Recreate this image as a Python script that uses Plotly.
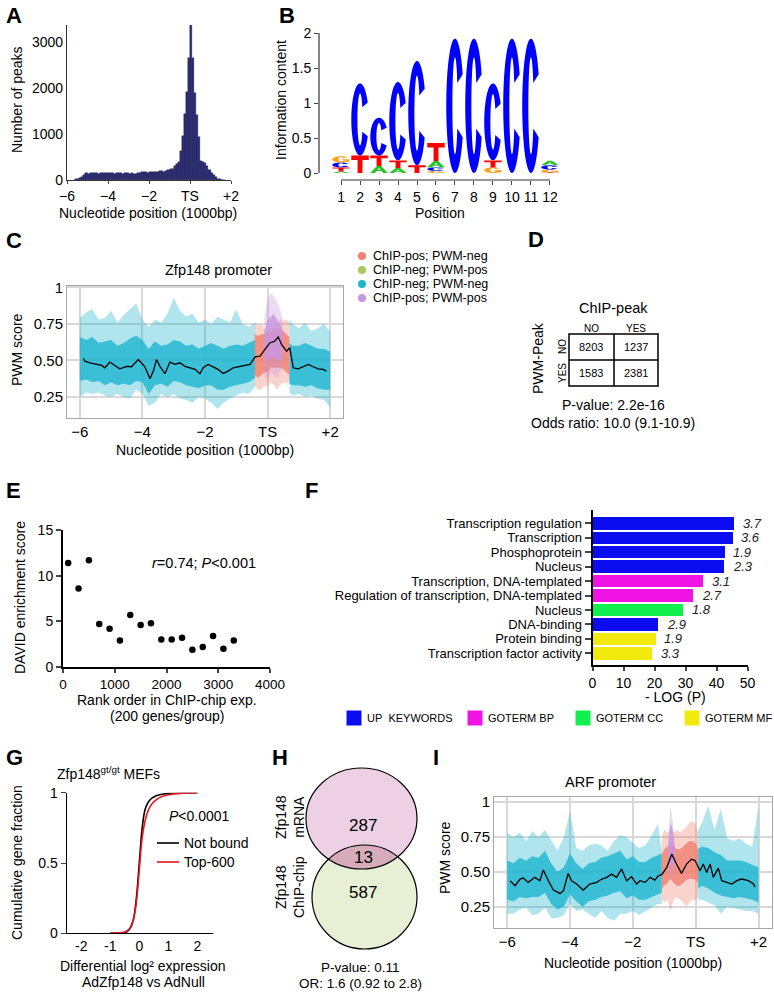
import numpy as np
import plotly.graph_objects as go

W, H = 774, 992
FONT = "Liberation Sans, Arial, Helvetica, sans-serif"

# ---------------- Panel A : histogram of peak positions ----------------
hist_first_center = -5.55
hist_bin_width = 0.1
hist_counts = [15, 25, 35, 60, 110, 150,
               140, 155, 150, 160, 150, 140, 145, 150, 145, 155,
               150, 155, 150, 140, 150, 145, 155, 140, 145, 150,
               140, 145, 135, 140, 150, 160, 170, 165, 170, 160,
               170, 165, 170, 175, 165, 190, 185, 175, 200, 210,
               240, 250, 300, 340, 400, 620, 960, 1440, 1920, 2650,
               3400, 2650, 1900, 1420, 930, 420, 400, 360, 300, 220,
               150, 100, 60, 30, 15, 8, 3]

# ---------------- Panel B : sequence logo ----------------
logo_positions = list(range(1, 13))
logo_A = [0.02, 0.00, 0.10, 0.07, 0.00, 0.09, 0.00, 0.00, 0.00, 0.00, 0.00, 0.065]
logo_C = [0.07, 1.03, 0.54, 1.12, 1.49, 0.05, 1.92, 1.92, 1.10, 1.92, 1.92, 0.06]
logo_G = [0.09, 0.00, 0.00, 0.00, 0.00, 0.03, 0.00, 0.00, 0.08, 0.00, 0.00, 0.04]
logo_T = [0.06, 0.25, 0.15, 0.11, 0.11, 0.26, 0.00, 0.00, 0.10, 0.00, 0.00, 0.01]

# ---------------- Panel C : Zfp148 promoter PWM scores ----------------
c_line_pos = [-5.89, -5.84, -5.68, -5.46, -5.30, -5.20, -5.04, -4.88, -4.72, -4.50, -4.35, -4.13, -4.03,
              -3.92, -3.76, -3.65, -3.55, -3.44, -3.28, -3.12, -2.96, -2.80, -2.64, -2.48, -2.32, -2.16,
              -2.06, -1.90, -1.74, -1.58, -1.42, -1.26, -1.10, -0.88, -0.72, -0.56, -0.40, -0.24, -0.09,
              0.07, 0.23, 0.34, 0.45, 0.61, 0.71, 0.82, 0.98, 1.14, 1.30, 1.46, 1.62, 1.78, 1.88]
c_line_val = [0.514, 0.495, 0.484, 0.473, 0.466, 0.450, 0.489, 0.466, 0.443, 0.460, 0.457, 0.507, 0.484,
              0.457, 0.375, 0.427, 0.507, 0.460, 0.409, 0.489, 0.473, 0.484, 0.460, 0.450, 0.439, 0.409,
              0.450, 0.473, 0.457, 0.439, 0.411, 0.427, 0.450, 0.460, 0.466, 0.473, 0.525, 0.530, 0.575,
              0.620, 0.632, 0.661, 0.609, 0.564, 0.587, 0.450, 0.443, 0.457, 0.473, 0.457, 0.443, 0.439, 0.427]
# ChIP-neg; PWM-neg (left of peak)
c_negL_pos = [-6.0, -5.8, -5.6, -5.4, -5.2, -5.0, -4.8, -4.6, -4.4, -4.2, -4.0, -3.8, -3.6, -3.4, -3.2,
              -3.0, -2.8, -2.6, -2.4, -2.2, -2.0, -1.8, -1.6, -1.4, -1.2, -1.0, -0.8, -0.6, -0.4]
c_negL_hi = [0.79, 0.83, 0.85, 0.78, 0.79, 0.84, 0.76, 0.81, 0.85, 0.89, 0.78, 0.73, 0.78, 0.76, 0.82,
             0.93, 0.84, 0.80, 0.82, 0.76, 0.78, 0.75, 0.80, 0.78, 0.76, 0.85, 0.75, 0.73, 0.76]
c_negL_lo = [0.25, 0.28, 0.27, 0.28, 0.26, 0.25, 0.27, 0.25, 0.24, 0.30, 0.27, 0.19, 0.21, 0.27, 0.25,
             0.27, 0.24, 0.23, 0.21, 0.25, 0.24, 0.21, 0.17, 0.21, 0.24, 0.26, 0.28, 0.27, 0.32]
c_negL_core_hi = [0.66, 0.64, 0.66, 0.62, 0.63, 0.64, 0.60, 0.62, 0.65, 0.67, 0.64, 0.58, 0.63, 0.60, 0.61,
                  0.64, 0.63, 0.60, 0.61, 0.58, 0.60, 0.62, 0.60, 0.58, 0.60, 0.61, 0.60, 0.62, 0.64]
c_negL_core_lo = [0.36, 0.37, 0.35, 0.36, 0.33, 0.35, 0.33, 0.34, 0.33, 0.36, 0.35, 0.27, 0.33, 0.34, 0.32,
                  0.36, 0.35, 0.33, 0.32, 0.31, 0.33, 0.33, 0.30, 0.30, 0.32, 0.33, 0.34, 0.35, 0.38]
# ChIP-neg; PWM-neg (right of peak)
c_negR_pos = [0.7, 0.8, 1.0, 1.2, 1.4, 1.6, 1.8, 2.0]
c_negR_hi = [0.78, 0.75, 0.72, 0.76, 0.70, 0.72, 0.75, 0.70]
c_negR_lo = [0.28, 0.26, 0.27, 0.25, 0.26, 0.24, 0.23, 0.18]
c_negR_core_hi = [0.62, 0.60, 0.60, 0.62, 0.60, 0.58, 0.58, 0.56]
c_negR_core_lo = [0.34, 0.33, 0.33, 0.32, 0.33, 0.31, 0.30, 0.30]
# ChIP-pos; PWM-neg
c_cpos_pos = [-0.41, -0.3, -0.2, -0.1, 0.0, 0.1, 0.2, 0.3, 0.4, 0.5, 0.6, 0.7]
c_cpos_hi = [0.76, 0.74, 0.75, 0.72, 0.70, 0.72, 0.74, 0.75, 0.78, 0.77, 0.78, 0.76]
c_cpos_lo = [0.33, 0.30, 0.30, 0.33, 0.32, 0.35, 0.33, 0.30, 0.33, 0.35, 0.34, 0.36]
c_cpos_core_hi = [0.68, 0.67, 0.68, 0.68, 0.70, 0.70, 0.72, 0.72, 0.72, 0.70, 0.68, 0.66]
c_cpos_core_lo = [0.40, 0.38, 0.40, 0.42, 0.42, 0.45, 0.45, 0.45, 0.45, 0.44, 0.42, 0.40]
# ChIP-pos; PWM-pos
c_both_pos = [-0.1, 0.0, 0.1, 0.2, 0.3, 0.4, 0.48]
c_both_hi = [0.80, 0.92, 0.96, 0.94, 0.90, 0.85, 0.78]
c_both_lo = [0.40, 0.36, 0.42, 0.40, 0.38, 0.42, 0.45]
c_both_core_hi = [0.70, 0.78, 0.80, 0.82, 0.78, 0.75, 0.70]
c_both_core_lo = [0.50, 0.50, 0.52, 0.52, 0.50, 0.50, 0.52]

# ---------------- Panel D : contingency table ----------------
d_table = [[8203, 1237], [1583, 2381]]

# ---------------- Panel E : DAVID enrichment ----------------
e_rank = [100, 300, 500, 700, 900, 1100, 1300, 1500, 1700, 1900, 2100, 2300, 2500, 2700, 2900, 3100, 3300]
e_score = [11.4, 8.6, 11.7, 4.7, 4.2, 2.9, 5.7, 4.6, 4.8, 3.0, 3.0, 3.2, 1.9, 2.2, 3.4, 2.0, 2.9]

# ---------------- Panel F : enrichment bars ----------------
f_terms = ["Transcription regulation", "Transcription", "Phosphoprotein", "Nucleus",
           "Transcription, DNA-templated", "Regulation of transcription, DNA-templated",
           "Nucleus", "DNA-binding", "Protein binding", "Transcription factor activity"]
f_neglogp = [45.6, 45.1, 42.5, 42.3, 35.5, 32.3, 29.1, 21.0, 20.3, 19.1]
f_fold = ["3.7", "3.6", "1.9", "2.3", "3.1", "2.7", "1.8", "2.9", "1.9", "3.3"]
f_category = ["UP KEYWORDS", "UP KEYWORDS", "UP KEYWORDS", "UP KEYWORDS", "GOTERM BP", "GOTERM BP",
              "GOTERM CC", "UP KEYWORDS", "GOTERM MF", "GOTERM MF"]
f_legend = ["UP KEYWORDS", "GOTERM BP", "GOTERM CC", "GOTERM MF"]

# ---------------- Panel G : cumulative distributions ----------------
g_x = [-1.0, -0.7, -0.5, -0.4, -0.3, -0.2, -0.1, 0.0, 0.1, 0.2, 0.3, 0.4, 0.5, 0.7, 1.0, 1.5, 2.0]
g_not_bound = [0.0, 0.0, 0.005, 0.015, 0.04, 0.10, 0.25, 0.50, 0.75, 0.88, 0.93, 0.955, 0.97, 0.985, 0.995, 0.999, 1.0]
g_top600 = [0.0, 0.003, 0.01, 0.02, 0.045, 0.10, 0.22, 0.45, 0.68, 0.80, 0.87, 0.91, 0.935, 0.965, 0.985, 0.997, 1.0]

# ---------------- Panel H : Venn ----------------
venn_mrna_only = 287
venn_overlap = 13
venn_chip_only = 587

# ---------------- Panel I : ARF promoter PWM scores ----------------
i_line_pos = [-5.91, -5.75, -5.59, -5.49, -5.33, -5.12, -4.96, -4.85, -4.69, -4.53, -4.32, -4.21, -4.06,
              -3.95, -3.79, -3.58, -3.37, -3.15, -2.99, -2.83, -2.68, -2.52, -2.36, -2.20, -2.04, -1.88,
              -1.77, -1.61, -1.45, -1.30, -1.19, -1.08, -0.92, -0.76, -0.61, -0.45, -0.29, -0.13, -0.02,
              0.14, 0.24, 0.35, 0.46, 0.56, 0.72, 0.83, 0.99, 1.15, 1.31, 1.46, 1.68, 1.84, 1.89]
i_line_val = [0.436, 0.400, 0.448, 0.455, 0.424, 0.460, 0.436, 0.512, 0.436, 0.369, 0.345, 0.364, 0.488,
              0.436, 0.412, 0.369, 0.412, 0.424, 0.448, 0.460, 0.483, 0.460, 0.519, 0.436, 0.464, 0.412,
              0.436, 0.424, 0.460, 0.440, 0.471, 0.479, 0.531, 0.626, 0.555, 0.488, 0.555, 0.590, 0.580,
              0.507, 0.555, 0.495, 0.555, 0.460, 0.526, 0.436, 0.424, 0.412, 0.436, 0.448, 0.436, 0.412, 0.390]
i_negL_pos = [-6.0, -5.8, -5.6, -5.4, -5.2, -5.0, -4.8, -4.6, -4.4, -4.2, -4.0, -3.8, -3.6, -3.4, -3.2,
              -3.0, -2.8, -2.6, -2.4, -2.2, -2.0, -1.8, -1.6, -1.4, -1.2, -1.08]
i_negL_hi = [0.78, 0.745, 0.78, 0.72, 0.79, 0.745, 0.80, 0.72, 0.65, 0.745, 0.93, 0.67, 0.65, 0.69, 0.70,
             0.69, 0.65, 0.72, 0.76, 0.745, 0.71, 0.67, 0.69, 0.76, 0.84, 0.65]
i_negL_lo = [0.20, 0.20, 0.23, 0.245, 0.19, 0.20, 0.245, 0.17, 0.17, 0.19, 0.27, 0.22, 0.23, 0.20, 0.17,
             0.22, 0.17, 0.15, 0.20, 0.20, 0.22, 0.19, 0.22, 0.245, 0.27, 0.27]
i_negL_core_hi = [0.58, 0.56, 0.60, 0.58, 0.61, 0.60, 0.65, 0.56, 0.50, 0.53, 0.63, 0.56, 0.52, 0.56, 0.57,
                  0.60, 0.61, 0.63, 0.65, 0.59, 0.61, 0.57, 0.57, 0.60, 0.62, 0.63]
i_negL_core_lo = [0.30, 0.29, 0.32, 0.31, 0.32, 0.32, 0.35, 0.27, 0.23, 0.25, 0.34, 0.29, 0.25, 0.29, 0.30,
                  0.32, 0.33, 0.35, 0.36, 0.31, 0.33, 0.30, 0.30, 0.32, 0.34, 0.35]
i_negR_pos = [0.08, 0.2, 0.4, 0.6, 0.8, 1.0, 1.2, 1.4, 1.6, 1.8, 2.0]
i_negR_hi = [0.80, 0.85, 0.97, 0.80, 0.95, 0.74, 0.72, 0.74, 0.70, 0.68, 0.97]
i_negR_lo = [0.30, 0.30, 0.28, 0.26, 0.20, 0.25, 0.24, 0.23, 0.22, 0.22, 0.20]
i_negR_core_hi = [0.66, 0.68, 0.67, 0.64, 0.62, 0.58, 0.58, 0.58, 0.57, 0.55, 0.53]
i_negR_core_lo = [0.38, 0.40, 0.38, 0.35, 0.33, 0.32, 0.31, 0.32, 0.31, 0.30, 0.28]
i_cpos_pos = [-1.08, -1.0, -0.9, -0.8, -0.7, -0.6, -0.5, -0.4, -0.3, -0.2, -0.1, 0.0, 0.08]
i_cpos_hi = [0.75, 0.80, 0.78, 0.80, 0.78, 0.80, 0.78, 0.80, 0.82, 0.85, 0.86, 0.84, 0.78]
i_cpos_lo = [0.30, 0.28, 0.30, 0.22, 0.30, 0.32, 0.30, 0.28, 0.25, 0.28, 0.30, 0.30, 0.32]
i_cpos_core_hi = [0.62, 0.66, 0.68, 0.70, 0.68, 0.66, 0.66, 0.68, 0.70, 0.72, 0.72, 0.70, 0.66]
i_cpos_core_lo = [0.38, 0.40, 0.42, 0.45, 0.42, 0.40, 0.40, 0.42, 0.44, 0.45, 0.45, 0.44, 0.42]
i_both_pos = [-0.87, -0.8, -0.73, -0.66]
i_both_hi = [0.75, 0.98, 0.85, 0.70]
i_both_lo = [0.50, 0.45, 0.48, 0.55]
i_both_core_hi = [0.70, 0.85, 0.80, 0.65]
i_both_core_lo = [0.55, 0.55, 0.55, 0.58]

# ======================================================================
def xd(a, b):
    return [a / W, b / W]


def yd(top, bot):
    return [1 - bot / H, 1 - top / H]


fig = go.Figure()
shapes = []
ann = []


def txt(x, y, s, size=14, xanchor="center", yanchor="middle", angle=0, color="black"):
    ann.append(dict(x=x, y=y, xref="x9", yref="y9", text=s, showarrow=False,
                    font=dict(family=FONT, size=size, color=color),
                    xanchor=xanchor, yanchor=yanchor, textangle=angle))


# ---- A
hist_centers = np.round(hist_first_center + hist_bin_width * np.arange(len(hist_counts)), 3)
fig.add_trace(go.Bar(x=hist_centers, y=hist_counts, width=hist_bin_width,
                     marker=dict(color="#2b2d7a", line=dict(color="#141540", width=0.4)),
                     xaxis="x", yaxis="y", showlegend=False, hoverinfo="skip"))

# ---- B logo glyphs


def ring(a0, a1, sx=0.35, sy=0.14, n=48):
    t = np.radians(np.linspace(a0, a1, n))
    outer = [(0.5 + 0.5 * np.cos(a), 0.5 + 0.5 * np.sin(a)) for a in t]
    inner = [(0.5 + (0.5 - sx) * np.cos(a), 0.5 + (0.5 - sy) * np.sin(a)) for a in t[::-1]]
    return outer + inner


def sub(pts, x0, y0, w, h):
    return "M " + " L ".join(f"{x0 + px * w:.4f},{y0 + py * h:.5f}" for px, py in pts) + " Z"


def glyph(L, x0, y0, w, h):
    if L == "C":
        return [sub(ring(28, 332), x0, y0, w, h)]
    if L == "G":
        bar = [(0.55, 0.52), (0.98, 0.52), (0.98, 0.12), (0.8, 0.12), (0.8, 0.38), (0.55, 0.38)]
        return [sub(ring(40, 340), x0, y0, w, h), sub(bar, x0, y0, w, h)]
    if L == "T":
        pts = [(0, 1), (1, 1), (1, 0.75), (0.64, 0.75), (0.64, 0), (0.36, 0), (0.36, 0.75), (0, 0.75)]
        return [sub(pts, x0, y0, w, h)]
    outer = [(0, 0), (0.38, 1), (0.62, 1), (1, 0), (0.74, 0), (0.65, 0.27), (0.35, 0.27), (0.26, 0)]
    hole = [(0.41, 0.42), (0.5, 0.72), (0.59, 0.42)]
    return [sub(outer, x0, y0, w, h) + " " + sub(hole, x0, y0, w, h)]


letter_colors = {"A": "#22c322", "C": "#0000ff", "G": "#ffa21a", "T": "#ff0000"}
for i, p in enumerate(logo_positions):
    stack = sorted([(arr[i], L) for L, arr in (("A", logo_A), ("C", logo_C), ("G", logo_G), ("T", logo_T))
                    if arr[i] > 0])
    y0 = 0.0
    for h, L in stack:
        for path in glyph(L, p - 0.46, y0, 0.92, h):
            shapes.append(dict(type="path", path=path, xref="x2", yref="y2",
                               fillcolor=letter_colors[L], line=dict(width=0), layer="above"))
        y0 += h
# partial axis lines for the logo
shapes.append(dict(type="line", xref="paper", yref="y2", x0=319 / W, x1=319 / W, y0=0, y1=2,
                   line=dict(color="#333", width=1.2)))
shapes.append(dict(type="line", xref="x2", yref="paper", x0=1, x1=12, y0=1 - 180 / H, y1=1 - 180 / H,
                   line=dict(color="#333", width=1.2)))
fig.add_trace(go.Scatter(x=[1], y=[0], xaxis="x2", yaxis="y2", mode="markers",
                         marker=dict(opacity=0), showlegend=False, hoverinfo="skip"))

# ---- C and I bands
CYAN = "29,181,207"
SALMON = "240,128,112"
VIOLET = "200,150,222"


def band(xa, ya, pos, lo, hi, rgb, alpha):
    xs = list(pos) + list(pos)[::-1]
    ys = list(hi) + list(lo)[::-1]
    fig.add_trace(go.Scatter(x=xs, y=ys, xaxis=xa, yaxis=ya, fill="toself",
                             fillcolor=f"rgba({rgb},{alpha})", line=dict(width=0), mode="lines",
                             showlegend=False, hoverinfo="skip"))


for xa, ya, groups, lp, lv in [
    ("x3", "y3", [(c_negL_pos, c_negL_lo, c_negL_hi, c_negL_core_lo, c_negL_core_hi, CYAN),
                  (c_negR_pos, c_negR_lo, c_negR_hi, c_negR_core_lo, c_negR_core_hi, CYAN),
                  (c_cpos_pos, c_cpos_lo, c_cpos_hi, c_cpos_core_lo, c_cpos_core_hi, SALMON),
                  (c_both_pos, c_both_lo, c_both_hi, c_both_core_lo, c_both_core_hi, VIOLET)],
     c_line_pos, c_line_val),
    ("x7", "y7", [(i_negL_pos, i_negL_lo, i_negL_hi, i_negL_core_lo, i_negL_core_hi, CYAN),
                  (i_negR_pos, i_negR_lo, i_negR_hi, i_negR_core_lo, i_negR_core_hi, CYAN),
                  (i_cpos_pos, i_cpos_lo, i_cpos_hi, i_cpos_core_lo, i_cpos_core_hi, SALMON),
                  (i_both_pos, i_both_lo, i_both_hi, i_both_core_lo, i_both_core_hi, VIOLET)],
     i_line_pos, i_line_val)]:
    for pos, lo, hi, clo, chi, rgb in groups:
        band(xa, ya, pos, lo, hi, rgb, 0.35)
        band(xa, ya, pos, clo, chi, rgb, 0.8)
    fig.add_trace(go.Scatter(x=lp, y=lv, xaxis=xa, yaxis=ya, mode="lines",
                             line=dict(color="black", width=1.3), showlegend=False, hoverinfo="skip"))

# ---- E
fig.add_trace(go.Scatter(x=e_rank, y=e_score, xaxis="x4", yaxis="y4", mode="markers",
                         marker=dict(color="black", size=6.5), showlegend=False, hoverinfo="skip"))

# ---- F
cat_colors = {"UP KEYWORDS": "#0c0cf0", "GOTERM BP": "#f014e4", "GOTERM CC": "#12f050", "GOTERM MF": "#f2ea0e"}
f_idx = list(range(len(f_terms)))
fig.add_trace(go.Bar(x=f_neglogp, y=f_idx, orientation="h", width=0.86,
                     marker=dict(color=[cat_colors[c] for c in f_category], line=dict(width=0)),
                     xaxis="x5", yaxis="y5", showlegend=False, hoverinfo="skip"))
for v, i, s in zip(f_neglogp, f_idx, f_fold):
    ann.append(dict(x=v, y=i, xref="x5", yref="y5", text=f"<i>{s}</i>", showarrow=False,
                    xanchor="left", xshift=7, font=dict(family=FONT, size=13, color="#222")))

# ---- G
fig.add_trace(go.Scatter(x=g_x, y=g_not_bound, xaxis="x6", yaxis="y6", mode="lines",
                         line=dict(color="black", width=1.6, shape="spline"), showlegend=False, hoverinfo="skip"))
fig.add_trace(go.Scatter(x=g_x, y=g_top600, xaxis="x6", yaxis="y6", mode="lines",
                         line=dict(color="#e8141e", width=1.6, shape="spline"), showlegend=False, hoverinfo="skip"))

# ---- overlay (pixel coordinates): legend dots of panel C
leg_rows = [256, 270, 284, 298]
fig.add_trace(go.Scatter(x=[362] * 4, y=leg_rows, xaxis="x9", yaxis="y9", mode="markers",
                         marker=dict(size=8, color=[f"rgb({SALMON})", "rgb(170,200,100)", f"rgb({CYAN})",
                                                    f"rgb({VIOLET})"]),
                         showlegend=False, hoverinfo="skip"))

# ================= text / annotations (pixel coords) =================
for lab, x, y in [("A", 4, 15), ("B", 277, 15), ("C", 4, 240), ("D", 526, 239), ("E", 4, 490),
                  ("F", 303, 490), ("G", 4, 757), ("H", 270, 757), ("I", 431, 757)]:
    txt(x, y, f"<b>{lab}</b>", size=22, xanchor="left")

# A
txt(17, 100, "Number of peaks", angle=-90)
txt(148, 213, "Nucleotide position (1000bp)")
# B
txt(281, 100, "Information content", angle=-90)
txt(440, 213, "Position")
# C
txt(218, 270, "Zfp148 promoter", size=14.5)
txt(17, 350, "PWM score", angle=-90)
txt(205, 450, "Nucleotide position (1000bp)")
for y, s in zip(leg_rows, ["ChIP-pos; PWM-neg", "ChIP-neg; PWM-pos", "ChIP-neg; PWM-neg",
                           "ChIP-pos; PWM-pos"]):
    txt(371, y, s, size=12.5, xanchor="left")
# D
txt(613, 308, "ChIP-peak", size=14.5)
txt(591, 328, "NO", size=10)
txt(636, 328, "YES", size=10)
txt(562, 347, "NO", size=10, angle=-90)
txt(562, 373, "YES", size=10, angle=-90)
txt(538, 358, "PWM-Peak", size=14, angle=-90)
for r, yy in enumerate([347, 373]):
    for c, xx in enumerate([591, 636]):
        txt(xx, yy, str(d_table[r][c]), size=11)
shapes.append(dict(type="rect", xref="x9", yref="y9", x0=569, x1=658, y0=334, y1=386,
                   line=dict(color="black", width=1.5)))
shapes.append(dict(type="line", xref="x9", yref="y9", x0=569, x1=658, y0=360, y1=360,
                   line=dict(color="black", width=1.5)))
shapes.append(dict(type="line", xref="x9", yref="y9", x0=614, x1=614, y0=334, y1=386,
                   line=dict(color="black", width=1.5)))
txt(613, 405, "P-value: 2.2e-16", size=14)
txt(613, 423, "Odds ratio: 10.0 (9.1-10.9)", size=14)
# E
txt(20, 598, "DAVID enrichment score", angle=-90)
txt(167, 700, "Rank order in ChIP-chip exp.")
txt(167, 716, "(200 genes/group)")
txt(204, 563, "<i>r</i>=0.74; <i>P</i>&lt;0.001", size=14.5)
# F
txt(675, 697, "- LOG (P)")
for name, xs in zip(f_legend, [354, 475, 583, 692]):
    shapes.append(dict(type="rect", xref="x9", yref="y9", x0=xs - 7.5, x1=xs + 7.5, y0=710.5, y1=725.5,
                       fillcolor=cat_colors[name], line=dict(width=0)))
    label = "UP&nbsp;&nbsp;KEYWORDS" if name == "UP KEYWORDS" else name
    txt(xs + 11, 718, label, size=11, xanchor="left")
# G
txt(55, 773, "Zfp148<sup>gt/gt</sup> MEFs", xanchor="left")
txt(17, 863, "Cumulative gene fraction", angle=-90)
txt(143, 966, "Differential log² expression")
txt(143, 982, "AdZfp148 vs AdNull")
txt(199, 816, "<i>P</i>&lt;0.0001", size=14)
shapes.append(dict(type="line", xref="x9", yref="y9", x0=157, x1=179, y0=843, y1=843,
                   line=dict(color="black", width=1.6)))
shapes.append(dict(type="line", xref="x9", yref="y9", x0=157, x1=179, y0=862, y1=862,
                   line=dict(color="#e8141e", width=1.6)))
txt(182, 843, "Not bound", xanchor="left")
txt(182, 862, "Top-600", xanchor="left")
# H Venn
pk = dict(cx=361.5, cy=818.5, rx=55.5, ry=50.5)
gr = dict(cx=364.5, cy=897.0, rx=52.5, ry=52.0)
shapes.append(dict(type="circle", xref="x9", yref="y9", x0=gr["cx"] - gr["rx"], x1=gr["cx"] + gr["rx"],
                   y0=gr["cy"] - gr["ry"], y1=gr["cy"] + gr["ry"], fillcolor="#e7efd4", line=dict(width=0)))
shapes.append(dict(type="circle", xref="x9", yref="y9", x0=pk["cx"] - pk["rx"], x1=pk["cx"] + pk["rx"],
                   y0=pk["cy"] - pk["ry"], y1=pk["cy"] + pk["ry"], fillcolor="#edd0e3", line=dict(width=0)))
tt = np.linspace(0, 2 * np.pi, 1441)
px_, py_ = pk["cx"] + pk["rx"] * np.cos(tt), pk["cy"] + pk["ry"] * np.sin(tt)
gx_, gy_ = gr["cx"] + gr["rx"] * np.cos(tt), gr["cy"] + gr["ry"] * np.sin(tt)
in_g = ((px_ - gr["cx"]) / gr["rx"]) ** 2 + ((py_ - gr["cy"]) / gr["ry"]) ** 2 <= 1
in_p = ((gx_ - pk["cx"]) / pk["rx"]) ** 2 + ((gy_ - pk["cy"]) / pk["ry"]) ** 2 <= 1
a1 = sorted(zip(px_[in_g], py_[in_g]))
a2 = sorted(zip(gx_[in_p], gy_[in_p]), reverse=True)
lens = "M " + " L ".join(f"{x:.2f},{y:.2f}" for x, y in a1 + a2) + " Z"
shapes.append(dict(type="path", xref="x9", yref="y9", path=lens, fillcolor="#d6acba", line=dict(width=0)))
for c in (gr, pk):
    shapes.append(dict(type="circle", xref="x9", yref="y9", x0=c["cx"] - c["rx"], x1=c["cx"] + c["rx"],
                       y0=c["cy"] - c["ry"], y1=c["cy"] + c["ry"], line=dict(color="black", width=1.2)))
txt(363, 825, str(venn_mrna_only), size=17)
txt(363, 857, str(venn_overlap), size=17)
txt(363, 892, str(venn_chip_only), size=17)
txt(290, 817, "Zfp148<br>mRNA", angle=-90)
txt(290, 887, "Zfp148<br>ChIP-chip", angle=-90)
txt(360, 967, "P-value: 0.11", size=13.5)
txt(360, 983, "OR: 1.6 (0.92 to 2.8)", size=13.5)
# I
txt(610, 782, "ARF promoter", size=14.5)
txt(445, 858, "PWM score", angle=-90)
txt(633, 963, "Nucleotide position (1000bp)")

# ================= axes =================
TF = dict(family=FONT, size=14, color="black")
base = dict(showgrid=False, zeroline=False, fixedrange=True, tickfont=TF, automargin=False)
pos_ticks = dict(tickvals=[-6, -4, -2, 0, 2], ticktext=["−6", "−4", "−2", "TS", "+2"])
grid_axis = dict(showgrid=True, gridcolor="#d8d8d8", gridwidth=1.5, showline=True, mirror=True,
                 linecolor="#a8a8a8", linewidth=1, ticks="", zeroline=False, fixedrange=True, automargin=False,
                 tickfont=dict(family=FONT, size=15, color="black"))

layout_axes = dict(
    xaxis=dict(base, domain=xd(67, 231), range=[-6, 2], anchor="y", showline=True, linecolor="#333",
               linewidth=1.2, ticks="outside", ticklen=3, **pos_ticks),
    yaxis=dict(base, domain=yd(25, 180), range=[0, 3370], anchor="x", showline=True, linecolor="#333",
               linewidth=1.2, ticks="", tickvals=[0, 1000, 2000, 3000]),
    xaxis2=dict(base, domain=xd(319, 560), range=[-0.16, 12.53], anchor="y2", showline=False,
                ticks="outside", ticklen=4, tickvals=logo_positions),
    yaxis2=dict(base, domain=yd(33, 180), range=[-0.1, 2.0], anchor="x2", showline=False,
                ticks="outside", ticklen=4, tickvals=[0, 0.5, 1, 1.5, 2], ticktext=["0", "0.5", "1", "1.5", "2"]),
    xaxis3=dict(grid_axis, domain=xd(67, 343), range=[-6.41, 2.41], anchor="y3", **pos_ticks),
    yaxis3=dict(grid_axis, domain=yd(286, 418), range=[0.106, 1.01], anchor="x3",
                tickvals=[0.25, 0.5, 0.75, 1], ticktext=["0.25", "0.50", "0.75", "1"]),
    xaxis4=dict(base, domain=xd(63, 270), range=[0, 4000], anchor="y4", showline=True, linecolor="black",
                linewidth=2, ticks="outside", ticklen=4, tickwidth=1.5, tickvals=[0, 1000, 2000, 3000, 4000],
                tickfont=dict(family=FONT, size=13.5)),
    yaxis4=dict(base, domain=yd(530, 667), range=[0, 15], anchor="x4", showline=True, linecolor="black",
                linewidth=2, ticks="outside", ticklen=5, tickwidth=1.5, tickvals=[0, 5, 10, 15],
                tickfont=dict(family=FONT, size=14)),
    xaxis5=dict(base, domain=xd(592.5, 747.5), range=[0, 50], anchor="y5", showline=True, linecolor="black",
                linewidth=2, ticks="outside", ticklen=4, tickwidth=1.5, tickvals=[0, 10, 20, 30, 40, 50]),
    yaxis5=dict(base, domain=yd(510, 665), range=[9.81, -0.92], anchor="x5", showline=True, linecolor="black",
                linewidth=2, ticks="outside", ticklen=6, tickwidth=2, tickvals=f_idx, ticktext=f_terms,
                tickfont=dict(family=FONT, size=13, color="black")),
    xaxis6=dict(base, domain=xd(66.7, 213), range=[-2.5, 2.54], anchor="y6", showline=True, linecolor="black",
                linewidth=1.2, ticks="", tickvals=[-2, -1, 0, 1, 2], ticktext=["-2", "-1", "0", "1", "2"]),
    yaxis6=dict(base, domain=yd(792.7, 933.3), range=[0, 1], anchor="x6", showline=True, linecolor="black",
                linewidth=1.2, ticks="outside", ticklen=5, tickvals=[0, 0.5, 1], ticktext=["0", "0.5", "1"]),
    xaxis7=dict(grid_axis, domain=xd(494, 771.7), range=[-6.42, 2.42], anchor="y7", **pos_ticks),
    yaxis7=dict(grid_axis, domain=yd(796.7, 928.3), range=[0.096, 1.036], anchor="x7",
                tickvals=[0.25, 0.5, 0.75, 1], ticktext=["0.25", "0.50", "0.75", "1"]),
    xaxis9=dict(domain=[0, 1], range=[0, W], visible=False, fixedrange=True, anchor="y9", automargin=False),
    yaxis9=dict(domain=[0, 1], range=[H, 0], visible=False, fixedrange=True, anchor="x9", automargin=False),
)

fig.update_layout(width=W, height=H, margin=dict(l=0, r=0, t=0, b=0, autoexpand=False), paper_bgcolor="white",
                  plot_bgcolor="rgba(0,0,0,0)", showlegend=False, barmode="overlay", bargap=0,
                  font=dict(family=FONT, size=14, color="black"),
                  shapes=shapes, annotations=ann, **layout_axes)
fig.write_html("out.html", config={"displayModeBar": False},
               post_script="document.body.style.margin='0px';document.body.style.overflow='hidden';")
